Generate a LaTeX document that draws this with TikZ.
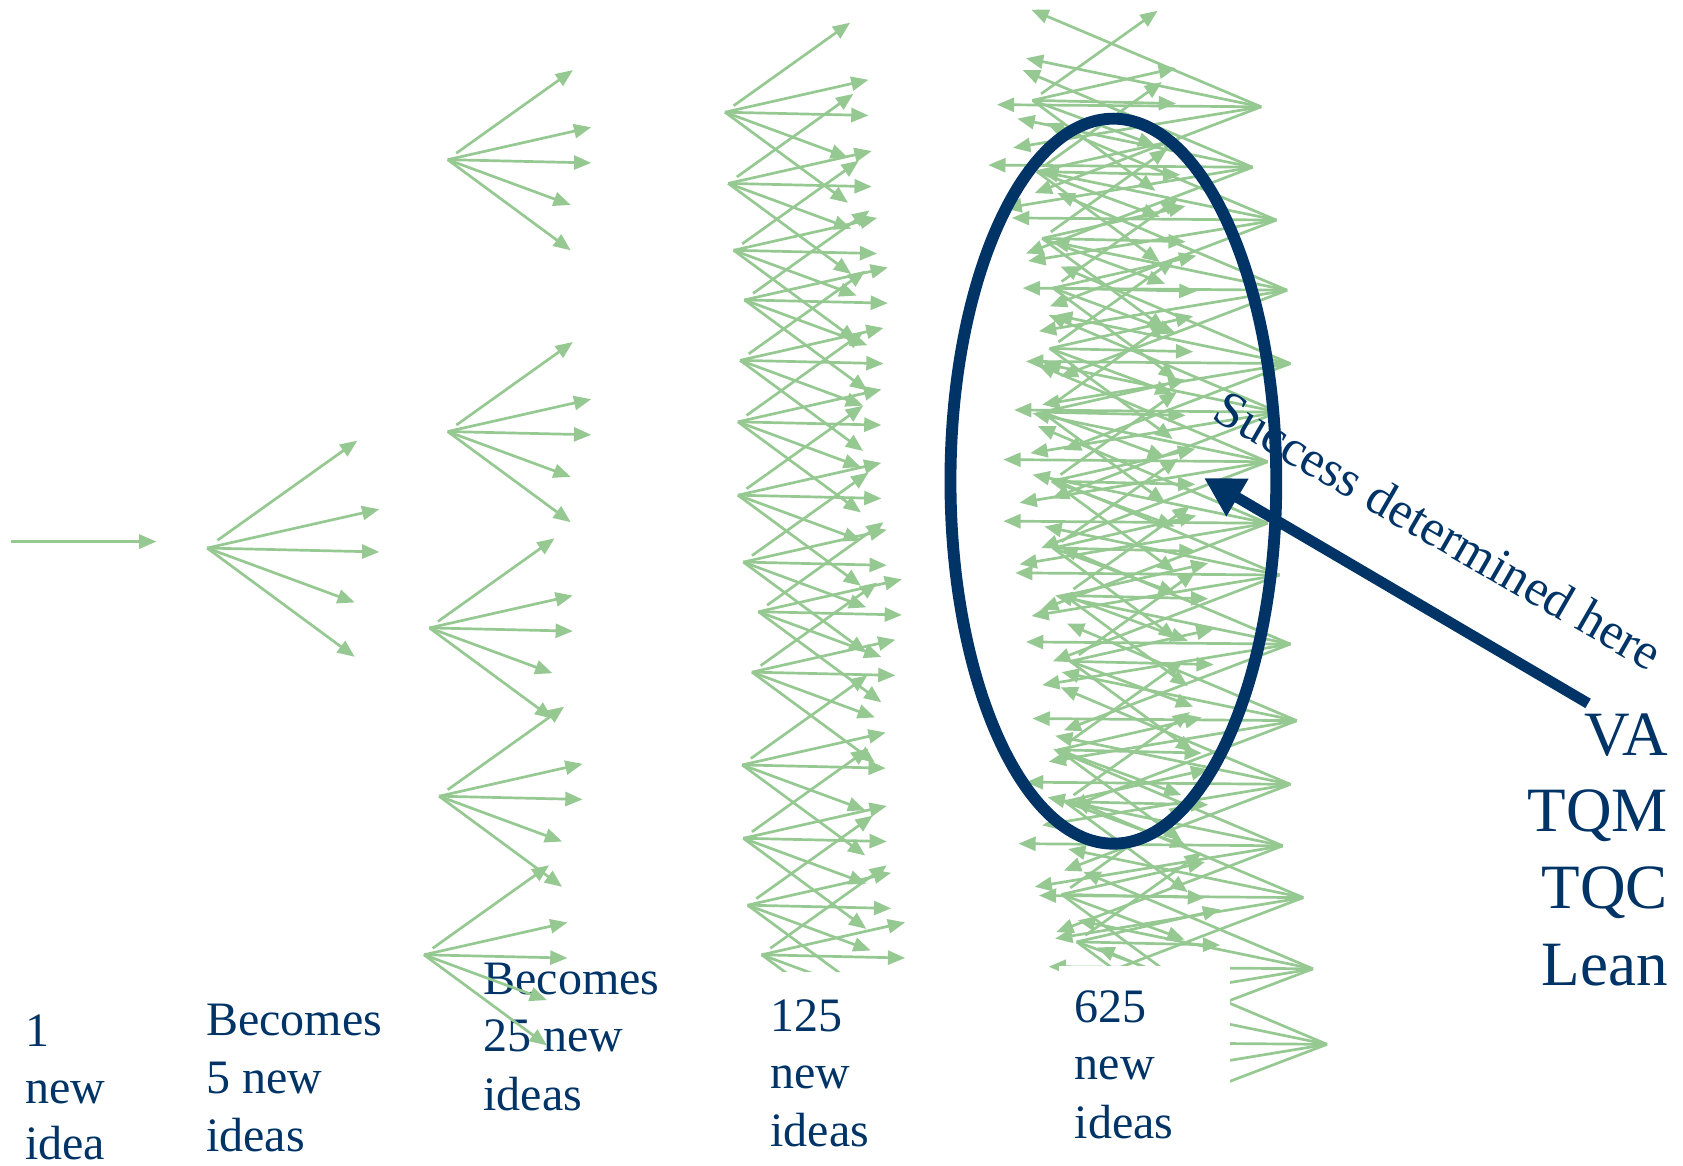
\documentclass[tikz,border=0pt]{standalone}
\usepackage{fontspec}
\setmainfont{Liberation Serif}
\usetikzlibrary{arrows.meta}
\definecolor{navy}{RGB}{0,51,102}
\definecolor{leaf}{RGB}{150,201,146}
\tikzset{
  garrow/.style={draw=leaf, line width=2.5pt, -{Triangle[length=16pt,width=13pt]}},
  fanr/.pic={
    \draw[garrow] (8,-6) -- (116,-83);
    \draw[garrow] (0,0) -- (133,-30);
    \draw[garrow] (0,0) -- (133,3);
    \draw[garrow] (0,0) -- (114,42);
    \draw[garrow] (0,0) -- (114,84);
  },
  fanl/.pic={
    \draw[garrow] (0,0) -- (-213,-90);
    \draw[garrow] (0,0) -- (-218,-45);
    \draw[garrow] (0,0) -- (-245,-2);
    \draw[garrow] (0,0) -- (-230,38);
    \draw[garrow] (0,0) -- (-210,80);
  },
  lbl/.style={text=navy, inner sep=0pt, anchor=base west, font=\fontsize{44.5}{53.5}\selectfont},
  rlbl/.style={text=navy, inner sep=0pt, anchor=base east, font=\fontsize{58.5}{71}\selectfont},
  slbl/.style={text=navy, inner sep=0pt, anchor=base west, rotate=-30, font=\fontsize{47.5}{56}\selectfont},
  navyline/.style={draw=navy, line width=11pt},
  cover/.style={fill=white, draw=none}
}
\begin{document}
\begin{tikzpicture}[x=1pt, y=-1pt]
\useasboundingbox (0,0) rectangle (1560,1080);

% label under the arrows of the 25 column
\node[lbl] (b25a) at (448,922) {Becomes};
\node[lbl] (b25b) at (448,975) {25 new};
\node[lbl] (b25c) at (448,1029) {ideas};

% 1 idea
\coordinate (one0) at (10,502);
\coordinate (one1) at (145,502);
\draw[garrow] (one0) -- (one1);

% 5 ideas
\pic[scale=1.2] at (192,508) {fanr};

% 25 ideas
\foreach \p in {(415,148),(415,400),(398,582),(407,738),(393,885)}
  \pic at \p {fanr};

% 125 ideas
\foreach \p in {(672,104),(675,170),(680,232),(690,278),(686,334),(684,391),(684,459),
  (689,521),(703,567),(697,623),(688,709),(689,777),(693,839),(706,885)}
  \pic at \p {fanr};

% 625 ideas
\foreach \p in {(957,93),(961,159),(966,221),(976,267),(973,323),(966,382),(975,446),
  (976,508),(987,552),(992,613),(981,695),(987,743),(984,829),(998,873)}
  \pic at \p {fanr};
\foreach \p in {(1169,99),(1161,155),(1183,204),(1193,269),(1196,337),(1185,382),(1175,428),
  (1175,485),(1186,533),(1196,597),(1202,668),(1196,727),(1189,784),(1208,832),(1217,898),(1230,968)}
  \pic at \p {fanl};

% white label backgrounds
\fill[cover] (690,901) rectangle (855,1085);
\fill[cover] (982,895) rectangle (1140,1085);

% labels
\node[lbl] (o1) at (23,970) {1};
\node[lbl] (o2) at (23,1023) {new};
\node[lbl] (o3) at (23,1075) {idea};
\node[lbl] (f1) at (191,960) {Becomes};
\node[lbl] (f2) at (191,1014) {5 new};
\node[lbl] (f3) at (191,1067) {ideas};
\node[lbl] (h1) at (714,956) {125};
\node[lbl] (h2) at (714,1009) {new};
\node[lbl] (h3) at (714,1063) {ideas};
\node[lbl] (s1) at (996,948) {625};
\node[lbl] (s2) at (996,1001) {new};
\node[lbl] (s3) at (996,1055) {ideas};

% ellipse and pointer
\draw[navyline] (1032,446) ellipse [x radius=151, y radius=336];
\coordinate (ptrstart) at (1472,652);
\coordinate (ptrtip) at (1116,443);
\draw[navyline, line width=10pt, -{Triangle[length=36pt,width=38pt]}] (ptrstart) -- (ptrtip);

\node[slbl] (succ) at (1122,388) {Success determined here};

\node[rlbl] (va) at (1546,700) {VA};
\node[rlbl] (tqm) at (1546,771) {TQM};
\node[rlbl] (tqc) at (1546,842) {TQC};
\node[rlbl] (lean) at (1546,913) {Lean};
\end{tikzpicture}
\end{document}
